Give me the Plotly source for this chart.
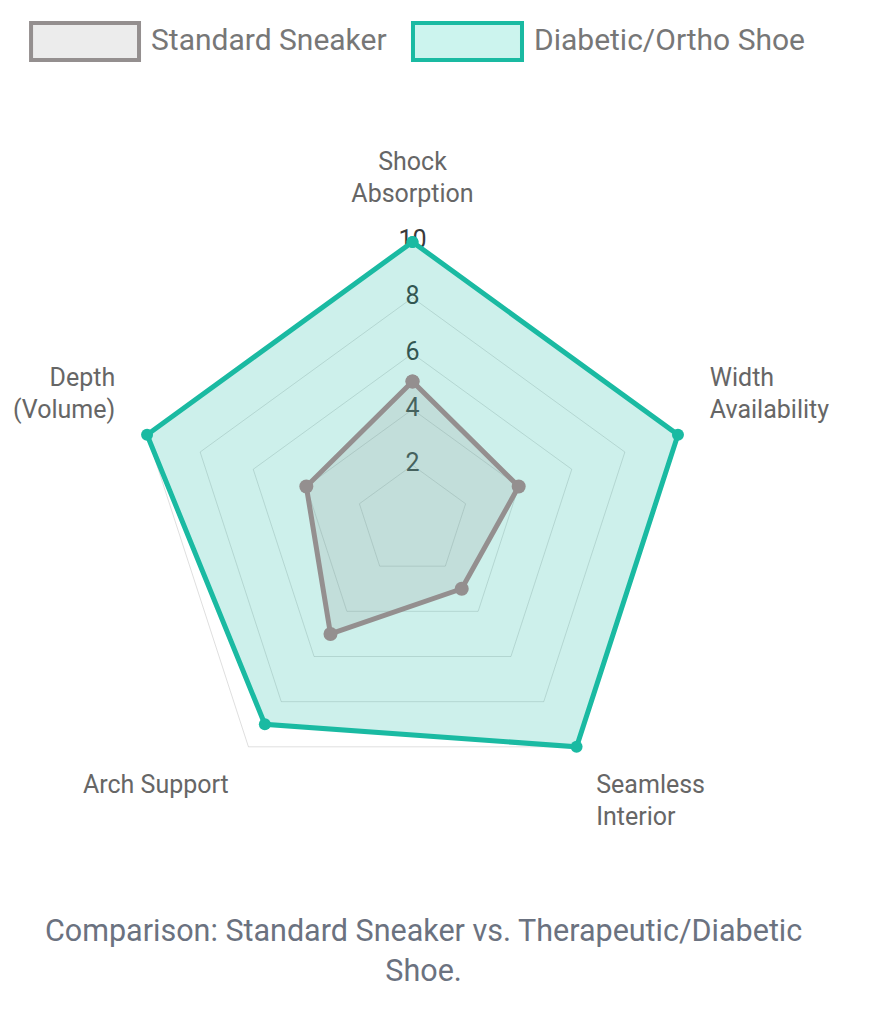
import plotly.graph_objects as go

categories = ["Shock Absorption", "Width Availability", "Seamless Interior", "Arch Support", "Depth (Volume)"]
category_labels = ["Shock<br>Absorption", "Width<br>Availability", "Seamless<br>Interior", "Arch Support", "Depth<br>(Volume)"]
standard_values = [5, 4, 3, 5, 4]
diabetic_values = [10, 10, 10, 9, 10]
tick_values = [2, 4, 6, 8, 10]
tick_labels = ["2", "4", "6", "8", "10"]
series_names = ["Standard Sneaker", "Diabetic/Ortho Shoe"]
caption = "Comparison: Standard Sneaker vs. Therapeutic/Diabetic<br>Shoe."

FONT = "Roboto, Arial, sans-serif"
TEAL = "rgb(26,186,162)"
TEAL_FILL = "rgba(26,186,162,0.22)"
GRAY = "rgb(148,143,143)"
GRAY_FILL = "rgba(150,150,150,0.2)"
LABEL_R = 11.2
R_MAX = 11.5

fig = go.Figure()

# radial tick labels (drawn beneath the datasets, like Chart.js)
fig.add_trace(go.Scatterpolar(
    r=tick_values, theta=[categories[0]] * len(tick_values),
    mode="text", text=tick_labels,
    textfont=dict(family=FONT, size=25, color="#3a3a3a"),
    textposition="middle center", showlegend=False, hoverinfo="skip",
))

fig.add_trace(go.Scatterpolar(
    r=diabetic_values + diabetic_values[:1],
    theta=categories + categories[:1],
    name=series_names[1], mode="lines+markers", fill="toself",
    fillcolor=TEAL_FILL, line=dict(color=TEAL, width=5),
    marker=dict(color=TEAL, size=12), showlegend=False,
))

fig.add_trace(go.Scatterpolar(
    r=standard_values + standard_values[:1],
    theta=categories + categories[:1],
    name=series_names[0], mode="lines+markers", fill="toself",
    fillcolor=GRAY_FILL, line=dict(color=GRAY, width=5),
    marker=dict(color=GRAY, size=14), showlegend=False,
))

# category (point) labels
fig.add_trace(go.Scatterpolar(
    r=[LABEL_R] * len(categories), theta=categories,
    mode="text", text=category_labels,
    textposition=["top center", "top right", "bottom right", "bottom left", "top left"],
    textfont=dict(family=FONT, size=25, color="#666"),
    showlegend=False, hoverinfo="skip",
))

# Chart.js-style legend boxes
legend_boxes = [
    dict(x0=0.0265, x1=0.1506, line=GRAY, fill="rgb(236,236,236)", tx=0.1625, name=series_names[0]),
    dict(x0=0.4655, x1=0.5908, line=TEAL, fill="rgb(204,244,238)", tx=0.6025, name=series_names[1]),
]
shapes = []
annotations = []
for b in legend_boxes:
    shapes.append(dict(type="rect", xref="paper", yref="paper", x0=b["x0"], x1=b["x1"],
                       y0=0.9485, y1=0.9851, line=dict(color=b["line"], width=4),
                       fillcolor=b["fill"]))
    annotations.append(dict(text=b["name"], xref="paper", yref="paper", x=b["tx"], y=0.9683,
                            xanchor="left", yanchor="middle", showarrow=False,
                            font=dict(size=30, color="#777", family=FONT)))

annotations.append(dict(text=caption, xref="paper", yref="paper", x=0.478, y=0.066,
                        xanchor="center", yanchor="middle", showarrow=False,
                        font=dict(size=30.5, color="#6b7280", family=FONT)))

fig.update_layout(
    width=870, height=1009,
    margin=dict(l=0, r=0, t=0, b=0),
    paper_bgcolor="white", plot_bgcolor="white",
    font=dict(family=FONT, color="#666"),
    showlegend=False,
    polar=dict(
        domain=dict(x=[0.096, 0.8339], y=[0.1734, 0.8097]),
        bgcolor="rgba(0,0,0,0)",
        gridshape="linear",
        radialaxis=dict(range=[0, R_MAX], tickvals=tick_values, showticklabels=False,
                        ticks="", showline=False, gridcolor="rgba(0,0,0,0.13)", gridwidth=1),
        angularaxis=dict(rotation=90, direction="clockwise", showgrid=False,
                         showline=False, showticklabels=False, ticks=""),
    ),
    shapes=shapes,
    annotations=annotations,
)

fig.write_html("out.html")
